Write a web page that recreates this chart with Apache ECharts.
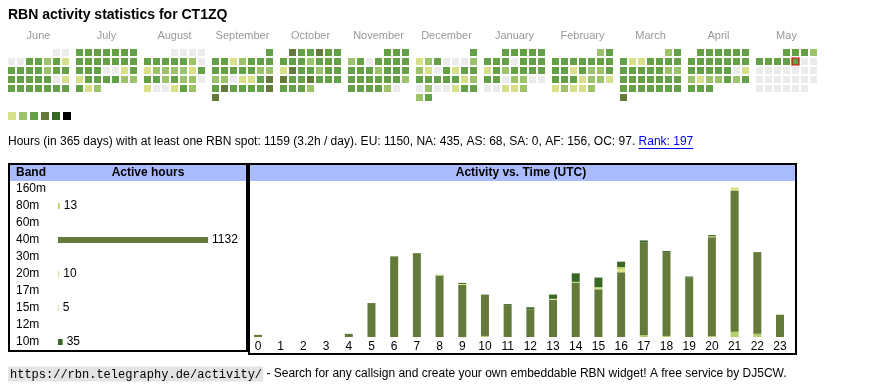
<!DOCTYPE html>
<html><head><meta charset="utf-8">
<script src="https://cdn.jsdelivr.net/npm/echarts@6/dist/echarts.min.js"></script>
<style>html,body{margin:0;padding:0;background:#fff}#c{width:870px;height:390px}</style>
</head><body><div id="c"></div>
<script>
// ---------- DATA ----------
const monthNames = ['June','July','August','September','October','November','December','January','February','March','April','May'];
const monthKeys = ['2024-06','2024-07','2024-08','2024-09','2024-10','2024-11','2024-12','2025-01','2025-02','2025-03','2025-04','2025-05'];
// daily activity level per month (0 = none, 1..6 = legend steps)
const lvJun = [0,0, 0,0,3,3,2,3,1, 3,3,3,3,2,3,3, 3,3,3,3,3,0,1, 3,3,3,3,3,3,3];
const lvJul = [3,3,3,3,3,3,3, 3,3,3,3,3,3,3, 3,3,3,0,0,1,3, 1,3,3,3,3,2,2, 3,1,2];
const lvAug = [0,0,0,0, 3,3,3,3,3,2,0, 1,2,2,2,2,1,3, 3,3,2,3,2,2,0, 1,0,0,1,3,2];
const lvSep = [3, 3,3,1,2,3,3,3, 3,3,3,3,3,2,2, 2,2,0,1,1,3,4, 3,4,3,3,3,3,4, 4];
const lvOct = [4,3,3,4,3,3, 3,3,3,2,3,3,3, 1,4,3,3,2,3,3, 4,3,3,4,3,3,3, 3,3,3,2];
const lvNov = [3,3,3, 2,3,0,3,3,3,3, 3,3,3,2,3,3,3, 3,3,3,3,3,3,2, 3,3,3,3,2,0];
const lvDec = [3, 1,2,3,0,0,0,2, 2,1,0,3,1,3,3, 3,3,3,3,3,1,2, 0,2,0,0,1,3,3, 2,3];
const lvJan = [3,3,3,3,3, 3,3,3,0,3,3,3, 1,3,2,3,3,3,3, 3,3,0,2,2,0,0, 0,0,1,1,2];
const lvFeb = [2,3, 3,3,3,3,3,3,3, 3,3,1,3,2,2,3, 3,3,3,1,2,2,1, 1,2,1,1,2];
const lvMar = [2,3, 3,1,1,3,3,3,3, 3,3,3,3,3,2,2, 3,3,3,3,3,3,3, 3,3,3,3,3,3,3, 4];
const lvApr = [3,3,3,3,3,3, 3,3,3,3,3,3,3, 3,3,3,3,3,0,1, 2,1,2,2,3,2,3, 3,3,3];
const lvMay = [3,3,3,2, 3,3,3,3,3,0,0, 0,0,0,0,0,0,0, 0,0,0,0,0,0,0, 0,0,0,0,0,0];
const today = '2025-05-09';
const levelColors = ['#d8e08a','#9cc36a','#64a046','#647a3a','#386625','#000000'];
const emptyColor = '#ebebeb';

const bands = ['160m','80m','60m','40m','30m','20m','17m','15m','12m','10m'];
const bandHours = [null,13,null,1132,null,10,null,5,null,35];
const bandColors = ['#d8e08a','#b2cf6a','#9cc36a','#637a3a','#64a046','#dde38a','#9cc36a','#b5d06c','#64a046','#3a6626'];

const hourLabels = ['0','1','2','3','4','5','6','7','8','9','10','11','12','13','14','15','16','17','18','19','20','21','22','23'];
const hours80m = [0,0,0,0,0,0,0,0,0,0,1,0,0,0,0,0,0,2,1,0,1,5,3,0];
const hours40m = [2,0,0,0,3,32,76,79,58,49,39,30,26,35,51,45,61,87,79,56,93,133,77,21];
const hours20m = [0,0,0,0,0,0,0,0,1,1,0,0,0,1,0,1,3,0,0,0,0,3,0,0];
const hours15m = [0,0,0,0,0,0,0,0,0,0,0,0,0,0,1,1,2,0,0,0,1,0,0,0];
const hours10m = [0,0,0,0,0,0,0,0,0,1,0,1,2,4,8,9,5,2,1,1,1,0,0,0];

const infoText = 'Hours (in 365 days) with at least one RBN spot: 1159 (3.2h / day). EU: 1150, NA: 435, AS: 68, SA: 0, AF: 156, OC: 97. ';
const rankText = 'Rank: 197';
const footerUrl = 'https://rbn.telegraphy.de/activity/';
const footerText = ' - Search for any callsign and create your own embeddable RBN widget! A free service by DJ5CW.';

// ---------- BUILD ----------
const SANS = '"Liberation Sans", Arial, sans-serif';
const monthLevels = [lvJun,lvJul,lvAug,lvSep,lvOct,lvNov,lvDec,lvJan,lvFeb,lvMar,lvApr,lvMay];
const calendars = [], series = [];
monthLevels.forEach((arr, i) => {
  calendars.push({
    orient: 'vertical', range: monthKeys[i], left: 7 + 68 * i, top: 48,
    cellSize: [9, 9],
    itemStyle: { color: 'transparent', borderWidth: 0 },
    splitLine: { show: false }, dayLabel: { show: false, firstDay: 1 },
    monthLabel: { show: false }, yearLabel: { show: false }
  });
  series.push({
    type: 'scatter', coordinateSystem: 'calendar', calendarIndex: i,
    symbol: 'rect', symbolSize: 7, silent: true, animation: false,
    itemStyle: { opacity: 1 },
    data: arr.map((v, d) => {
      const ds = monthKeys[i] + '-' + String(d + 1).padStart(2, '0');
      if (ds === today) return { value: [ds, v], symbolSize: 7, itemStyle: { borderColor: '#e00000', borderWidth: 1.2 } };
      return [ds, v];
    })
  });
});
const calCount = series.length;

const hourBands = [[hours80m,'80m',1],[hours40m,'40m',3],[hours20m,'20m',5],[hours15m,'15m',7],[hours10m,'10m',9]];
hourBands.forEach(([d, name, bi]) => {
  series.push({
    type: 'bar', name, stack: 'h', xAxisIndex: 2, yAxisIndex: 2, barWidth: 8,
    itemStyle: { color: bandColors[bi] }, data: d, silent: true
  });
});
series.push({
  type: 'bar', xAxisIndex: 1, yAxisIndex: 1, barWidth: 6, silent: true,
  data: bandHours.map((v, i) => ({ value: v, itemStyle: { color: bandColors[i] } })),
  label: { show: true, position: 'right', distance: 4, fontSize: 12, color: '#000', fontFamily: SANS,
    formatter: p => (p.value == null ? '' : String(p.value)) }
});

// text measurement for the underline of the link
const INFO_FONT = '12px "Liberation Sans"';
const ctx = document.createElement('canvas').getContext('2d');
ctx.font = INFO_FONT;
const infoW = ctx.measureText(infoText).width;
const rankW = ctx.measureText(rankText).width;
const INFO_Y = 142;

const option = {
  animation: false,
  calendar: calendars,
  visualMap: {
    type: 'piecewise', seriesIndex: [...Array(calCount).keys()], dimension: 1,
    pieces: levelColors.map((c, k) => ({ value: k + 1, color: c })),
    outOfRange: { color: emptyColor },
    orient: 'horizontal', left: 8, top: 112, itemWidth: 8, itemHeight: 8, itemGap: 3,
    itemSymbol: 'rect', showLabel: false, padding: 0, hoverLink: false
  },
  grid: [
    { left: 4.5, width: 816, top: 43, height: 1 },
    { left: 58, width: 150, top: 180.5, height: 170 },
    { left: 246.65, width: 544.7, top: 181, height: 156 }
  ],
  xAxis: [
    { gridIndex: 0, type: 'category', data: monthNames, position: 'top',
      axisLine: { show: false }, axisTick: { show: false }, splitLine: { show: false },
      axisLabel: { interval: 0, color: '#999', fontSize: 11, margin: 2, fontFamily: SANS } },
    { gridIndex: 1, type: 'value', min: 0, max: 1132, show: false },
    { gridIndex: 2, type: 'category', data: hourLabels,
      axisLine: { show: false }, axisTick: { show: false },
      axisLabel: { interval: 0, color: '#000', fontSize: 12, margin: 4, fontFamily: SANS } }
  ],
  yAxis: [
    { gridIndex: 0, type: 'value', show: false },
    { gridIndex: 1, type: 'category', data: bands, inverse: true,
      axisLine: { show: false }, axisTick: { show: false },
      axisLabel: { align: 'left', margin: 42, fontSize: 12, color: '#000', fontFamily: SANS } },
    { gridIndex: 2, type: 'value', min: 0, max: 147, show: false }
  ],
  series,
  graphic: [
    { type: 'text', x: 8, y: 15, style: { text: 'RBN activity statistics for CT1ZQ', font: 'bold 14px ' + SANS, fill: '#000', verticalAlign: 'middle' } },
    { type: 'text', x: 8, y: INFO_Y, style: { text: infoText, font: INFO_FONT, fill: '#000', verticalAlign: 'middle' } },
    { type: 'text', x: 8 + infoW, y: INFO_Y, style: { text: rankText, font: INFO_FONT, fill: '#0000ee', verticalAlign: 'middle' } },
    { type: 'line', shape: { x1: 8 + infoW, y1: INFO_Y + 6.5, x2: 8 + infoW + rankW, y2: INFO_Y + 6.5 }, style: { stroke: '#0000ee', lineWidth: 1 } },
    // left panel
    { type: 'rect', shape: { x: 10, y: 165, width: 236, height: 16 }, style: { fill: '#aabbff' } },
    { type: 'rect', shape: { x: 9, y: 164, width: 238, height: 187 }, style: { fill: null, stroke: '#000', lineWidth: 2 } },
    { type: 'text', x: 16, y: 173, style: { text: 'Band', font: 'bold 12px ' + SANS, fill: '#000', verticalAlign: 'middle' } },
    { type: 'text', x: 148, y: 173, style: { text: 'Active hours', font: 'bold 12px ' + SANS, fill: '#000', align: 'center', verticalAlign: 'middle' } },
    // right panel
    { type: 'rect', shape: { x: 250, y: 165, width: 545, height: 16 }, style: { fill: '#aabbff' } },
    { type: 'rect', shape: { x: 249, y: 164, width: 547, height: 190 }, style: { fill: null, stroke: '#000', lineWidth: 2 } },
    { type: 'text', x: 521, y: 173, style: { text: 'Activity vs. Time (UTC)', font: 'bold 12px ' + SANS, fill: '#000', align: 'center', verticalAlign: 'middle' } },
    // footer
    { type: 'text', x: 8, y: 374, style: {
        text: '{u|' + footerUrl + '}{t|' + footerText + '}', verticalAlign: 'middle',
        rich: {
          u: { fontFamily: '"Liberation Mono", monospace', fontSize: 12, color: '#333', backgroundColor: '#e4e4e4', padding: [2, 1, 1, 2] },
          t: { fontFamily: SANS, fontSize: 12, color: '#000' }
        } } }
  ]
};
const chart = echarts.init(document.getElementById('c'), null, { renderer: 'canvas' });
chart.setOption(option);
</script>
</body></html>
